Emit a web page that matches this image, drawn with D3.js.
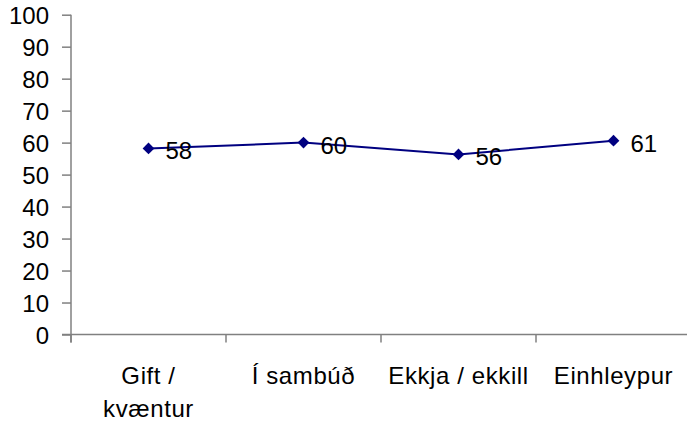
<!DOCTYPE html>
<html><head><meta charset="utf-8">
<script src="https://cdn.jsdelivr.net/npm/d3@7"></script>
<style>body{margin:0;background:#fff}svg{display:block}</style>
</head><body>
<svg id="chart" width="687" height="423"></svg>
<script>
const categories = [["Gift /","kvæntur"],["Í sambúð"],["Ekkja / ekkill"],["Einhleypur"]];
const values = [58.2, 60.0, 56.3, 60.6];
const yTicks = [0,10,20,30,40,50,60,70,80,90,100];

const svg = d3.select("#chart");
const font = "'Liberation Sans', Arial, sans-serif";
const mLeft = 71, mRight = 691, mTop = 14.7, mBottom = 334.5;
const ids = categories.map((c,i)=>i);
const xBand = d3.scaleBand().domain(ids).range([mLeft, mRight]);
const y = d3.scaleLinear().domain([0,100]).range([mBottom, mTop]);
const axisColor = "#808080";

// Y axis
const ya = svg.append("g").attr("transform",`translate(${mLeft},0)`)
  .call(d3.axisLeft(y).tickValues(yTicks).tickSize(9).tickPadding(13).tickFormat(d3.format("d")));
ya.select(".domain").attr("stroke",axisColor).attr("stroke-width",1.5).attr("d",`M0,${mTop}V${mBottom+8}`);
ya.selectAll(".tick line").attr("stroke",axisColor).attr("stroke-width",1.5);
ya.selectAll(".tick text").attr("font-family",font).attr("font-size",24).attr("fill","#000").attr("dy","0.38em");

// X axis
const xa = svg.append("g").attr("transform",`translate(0,${mBottom})`);
xa.append("line").attr("x1",mLeft-9).attr("x2",mRight).attr("y1",0).attr("y2",0)
  .attr("stroke",axisColor).attr("stroke-width",1.5);
const bounds = ids.map(i=>xBand(i)).concat([xBand(ids[ids.length-1])+xBand.bandwidth()]);
xa.selectAll("line.t").data(bounds).join("line").attr("class","t")
  .attr("x1",d=>d).attr("x2",d=>d).attr("y1",0).attr("y2",8)
  .attr("stroke",axisColor).attr("stroke-width",1.5);
const cx = i => xBand(i) + xBand.bandwidth()/2;
const labs = xa.selectAll("text.c").data(categories).join("text").attr("class","c")
  .attr("font-family",font).attr("font-size",24).attr("letter-spacing","0.6px")
  .attr("fill","#000").attr("text-anchor","middle");
labs.each(function(lines,i){
  d3.select(this).selectAll("tspan").data(lines).join("tspan")
    .attr("x",cx(i)).attr("y",(d,j)=>49+j*33).text(d=>d);
});

// Line
const line = d3.line().x((d,i)=>cx(i)).y(d=>y(d));
svg.append("path").datum(values).attr("d",line).attr("fill","none")
  .attr("stroke","#000080").attr("stroke-width",2);
svg.selectAll("path.m").data(values).join("path").attr("class","m")
  .attr("d",d3.symbol().type(d3.symbolDiamond2).size(88))
  .attr("transform",(d,i)=>`translate(${cx(i)},${y(d)})`)
  .attr("fill","#000080");
svg.selectAll("text.v").data(values).join("text").attr("class","v")
  .attr("x",(d,i)=>cx(i)+17).attr("y",d=>y(d)+11)
  .attr("font-family",font).attr("font-size",24).attr("fill","#000")
  .text(d=>Math.round(d));
</script>
</body></html>
